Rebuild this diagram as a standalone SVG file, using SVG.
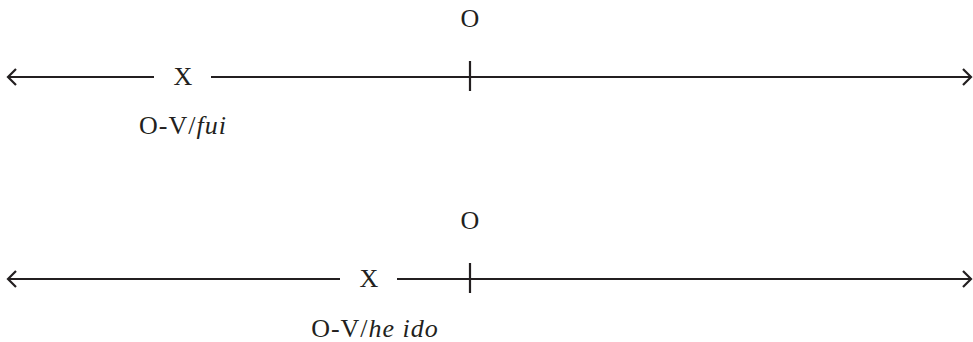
<svg xmlns="http://www.w3.org/2000/svg" width="973" height="342" viewBox="0 0 973 342">
<style>
.ln{stroke:#231f20;stroke-width:2.2;fill:none}
.t{font-family:"Liberation Serif","DejaVu Serif",serif;font-size:26px;fill:#231f20;text-anchor:middle}
.lb{letter-spacing:1px}
.i{font-style:italic}
</style>
<rect width="973" height="342" fill="#fff"/>
<g id="connectors">
<path class="ln" d="M8,77 H154 M211,77 H971 M16,69 L8,77 L16,85 M963,69 L971,77 L963,85 M470,61 V91"/>
<path class="ln" d="M8,279 H340 M397,279 H971 M16,271 L8,279 L16,287 M963,271 L971,279 L963,287 M470,263 V293"/>
</g>
<g id="o1"><text class="t" x="470" y="27">O</text></g>
<g id="x1"><text class="t" x="183" y="85">X</text></g>
<g id="label1"><text class="t lb" x="183" y="134">O-V/<tspan class="i">fui</tspan></text></g>
<g id="o2"><text class="t" x="470" y="229">O</text></g>
<g id="x2"><text class="t" x="369" y="287">X</text></g>
<g id="label2"><text class="t lb" x="375" y="337">O-V/<tspan class="i">he ido</tspan></text></g>
</svg>
